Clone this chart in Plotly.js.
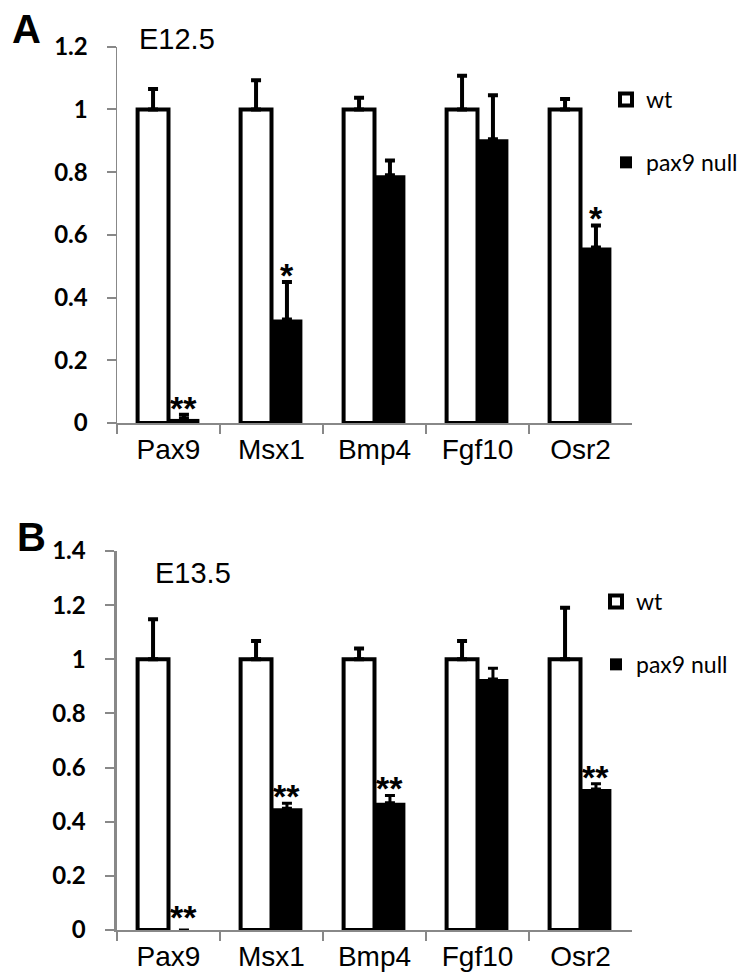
<!DOCTYPE html>
<html>
<head>
<meta charset="utf-8">
<script src="https://cdn.plot.ly/plotly-3.0.1.min.js"></script>
<style>
html,body{margin:0;padding:0;background:#fff;}
#chart{width:747px;height:979px;}
</style>
</head>
<body>
<div id="chart"></div>
<script>
// ---- data ----
var genes = ['Pax9', 'Msx1', 'Bmp4', 'Fgf10', 'Osr2'];

var wtA = [1, 1, 1, 1, 1];
var wtAErr = [0.065, 0.093, 0.037, 0.107, 0.033];
var nullA = [0.013, 0.33, 0.79, 0.905, 0.56];
var nullAErr = [0.013, 0.12, 0.047, 0.14, 0.07];
var sigA = ['**', '*', '', '', '*'];

var wtB = [1, 1, 1, 1, 1];
var wtBErr = [0.148, 0.068, 0.04, 0.068, 0.19];
var nullB = [0, 0.45, 0.47, 0.927, 0.521];
var nullBErr = [null, 0.018, 0.027, 0.04, 0.019];
var sigB = ['**', '**', '**', '', '**'];

var seriesNames = ['wt', 'pax9 null'];
var stageA = 'E12.5';
var stageB = 'E13.5';
var yTicksA = [0, 0.2, 0.4, 0.6, 0.8, 1, 1.2];
var yTicksB = [0, 0.2, 0.4, 0.6, 0.8, 1, 1.2, 1.4];

// ---- helpers ----
function zeros(n){ var a=[]; for(var i=0;i<n;i++) a.push(0); return a; }
function errY(arr, th){
  return {type:'data', symmetric:false, array:arr, arrayminus:zeros(arr.length),
          color:'#000', thickness:th, width:5};
}

var W = 747, H = 979;
var catFont = {family:'Liberation Sans, Arial, sans-serif', size:28, color:'#000'};
var tickFont = {family:'Lato, sans-serif', size:24, color:'#000', weight:'bold'};
var legFont = {family:'Lato, sans-serif', size:23, color:'#000'};
var starFont = {family:'Liberation Sans, Arial, sans-serif', size:34, color:'#000', weight:'bold'};

var traces = [
  {type:'bar', x:genes, y:wtA, name:seriesNames[0], xaxis:'x', yaxis:'y',
   marker:{color:'#fff', line:{color:'#000', width:4}}, error_y:errY(wtAErr,4),
   legend:'legend', legendgroup:'a1'},
  {type:'bar', x:genes, y:nullA, name:seriesNames[1], xaxis:'x', yaxis:'y',
   marker:{color:'#000', line:{color:'#000', width:0}}, error_y:errY(nullAErr,4),
   legend:'legend', legendgroup:'a2'},
  {type:'bar', x:genes, y:wtB, name:seriesNames[0], xaxis:'x2', yaxis:'y2',
   marker:{color:'#fff', line:{color:'#000', width:4}}, error_y:errY(wtBErr,4),
   legend:'legend2', legendgroup:'b1'},
  {type:'bar', x:genes, y:nullB, name:seriesNames[1], xaxis:'x2', yaxis:'y2',
   marker:{color:'#000', line:{color:'#000', width:0}}, error_y:errY(nullBErr,3),
   legend:'legend2', legendgroup:'b2'}
];

var annotations = [];
function addStars(sig, vals, errs, xr, yr){
  for (var i=0;i<sig.length;i++){
    if (!sig[i]) continue;
    var top = vals[i] + (errs[i] || 0);
    annotations.push({xref:xr, yref:yr, x:genes[i], y:top, text:sig[i],
      showarrow:false, xanchor:'center', yanchor:'bottom', xshift:15,
      yshift: (errs[i] ? -14 : -8), font:starFont});
  }
}
addStars(sigA, nullA, nullAErr, 'x', 'y');
addStars(sigB, nullB, nullBErr, 'x2', 'y2');

annotations.push({xref:'paper', yref:'paper', x:137/W, y:1-39/H, xanchor:'left', yanchor:'middle',
  text:stageA, showarrow:false, font:{family:'Liberation Sans, Arial, sans-serif', size:29, color:'#000'}});
annotations.push({xref:'paper', yref:'paper', x:153/W, y:1-573/H, xanchor:'left', yanchor:'middle',
  text:stageB, showarrow:false, font:{family:'Liberation Sans, Arial, sans-serif', size:29, color:'#000'}});
annotations.push({xref:'paper', yref:'paper', x:10/W, y:1-29/H, xanchor:'left', yanchor:'middle',
  text:'<b>A</b>', showarrow:false, font:{family:'Liberation Sans, Arial, sans-serif', size:40, color:'#000'}});
annotations.push({xref:'paper', yref:'paper', x:15/W, y:1-537/H, xanchor:'left', yanchor:'middle',
  text:'<b>B</b>', showarrow:false, font:{family:'Liberation Sans, Arial, sans-serif', size:40, color:'#000'}});

function xAxis(dom, anchor, lw){
  return {domain:dom, anchor:anchor, type:'category', range:[-0.5, 4.5],
    tickson:'boundaries', ticks:'outside', ticklen:9, tickwidth:2, tickcolor:'#888',
    showline:true, linecolor:'#888', linewidth:lw, showgrid:false, zeroline:false,
    tickfont:catFont, fixedrange:true};
}
function yAxis(dom, anchor, rng, tv, lw){
  return {domain:dom, anchor:anchor, range:rng, tickvals:tv, ticks:'outside', ticklen:9,
    tickwidth:2, tickcolor:'#888', showline:true, linecolor:'#888', linewidth:lw,
    showgrid:false, zeroline:false, tickfont:tickFont, ticklabelstandoff:14, fixedrange:true};
}

var layout = {
  width:W, height:H, margin:{l:0, r:0, t:0, b:0},
  paper_bgcolor:'#fff', plot_bgcolor:'rgba(0,0,0,0)',
  barmode:'group', bargap:0.4, bargroupgap:0,
  showlegend:true,
  xaxis: xAxis([117/W, 632/W], 'y', 2),
  yaxis: yAxis([1-423/H, 1-46.7/H], 'x', [0, 1.2], yTicksA, 1.5),
  xaxis2: xAxis([117/W, 632/W], 'y2', 2),
  yaxis2: yAxis([1-930/H, 1-551/H], 'x2', [0, 1.4], yTicksB, 3.5),
  legend:{x:606/W, y:1-78/H, xanchor:'left', yanchor:'top', font:legFont,
    traceorder:'grouped', tracegroupgap:30, bgcolor:'rgba(0,0,0,0)'},
  legend2:{x:596/W, y:1-580/H, xanchor:'left', yanchor:'top', font:legFont,
    traceorder:'grouped', tracegroupgap:30, bgcolor:'rgba(0,0,0,0)'},
  annotations:annotations
};

Plotly.newPlot('chart', traces, layout, {displayModeBar:false, staticPlot:true});
</script>
</body>
</html>
